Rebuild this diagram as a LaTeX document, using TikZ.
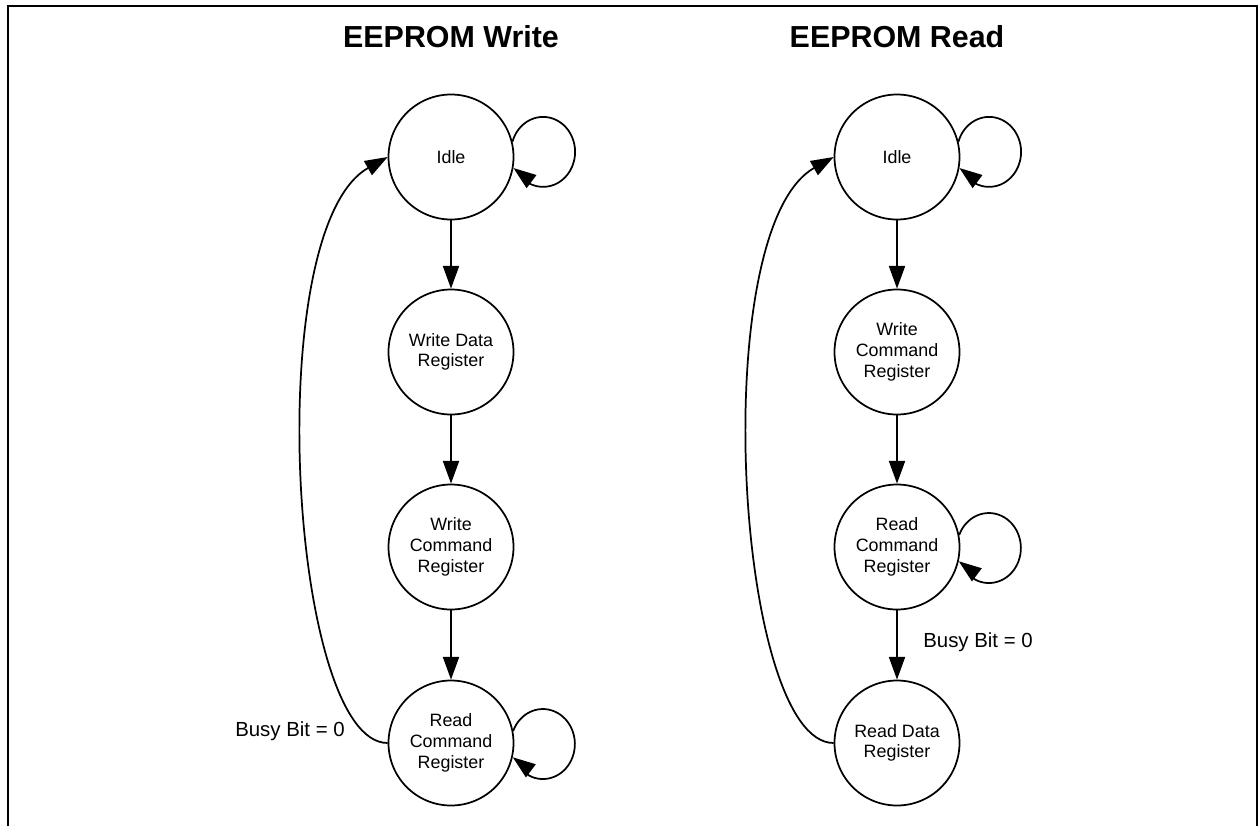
\documentclass[tikz,border=0pt]{standalone}
\usepackage{fontspec}
\setmainfont{Liberation Sans}
\usetikzlibrary{arrows.meta}
\begin{document}
\begin{tikzpicture}[x=0.75pt,y=-0.75pt,
  state/.style={circle,draw,line width=1.3pt,minimum size=93.75pt,inner sep=0pt,align=center,
    font=\fontsize{13.4}{15.5}\selectfont},
  arr/.style={line width=1.3pt,-{Triangle[length=17pt,width=12pt]}},
  title/.style={font=\fontsize{22.8}{26}\selectfont\bfseries},
  lbl/.style={font=\fontsize{15.3}{18}\selectfont}]
\useasboundingbox (0,0) rectangle (1259,825);
\draw[line width=1.1pt] (8,830) -- (8,6) -- (1257,6) -- (1257,830);
% titles
\node[title] (tw) at (451,37) {EEPROM Write};
\node[title] (tr) at (897,37) {EEPROM Read};
% write column
\node[state] (wi) at (451,157) {Idle};
\node[state] (wd) at (451,352) {Write Data\\Register};
\node[state] (wc) at (451,547) {Write\\Command\\Register};
\node[state] (wr) at (451,743) {Read\\Command\\Register};
% read column
\node[state] (ri) at (897,157) {Idle};
\node[state] (rc) at (897,352) {Write\\Command\\Register};
\node[state] (rr) at (897,547) {Read\\Command\\Register};
\node[state] (rd) at (897,743) {Read Data\\Register};
% straight arrows
\draw[arr] (wi) -- (wd);
\draw[arr] (wd) -- (wc);
\draw[arr] (wc) -- (wr);
\draw[arr] (ri) -- (rc);
\draw[arr] (rc) -- (rr);
\draw[arr] (rr) -- (rd);
% self loops
\draw[arr] (wi.14) arc[start angle=197, end angle=470, x radius=32, y radius=35]
  .. controls +(-10,-4) and +(12,9) .. (wi.-10);
\draw[arr] (wr.11) arc[start angle=202, end angle=470, x radius=32, y radius=35]
  .. controls +(-10,-4) and +(12,9) .. (wr.-13);
\draw[arr] (ri.14) arc[start angle=197, end angle=470, x radius=32, y radius=35]
  .. controls +(-10,-4) and +(12,9) .. (ri.-10);
\draw[arr] (rr.11) arc[start angle=202, end angle=470, x radius=32, y radius=35]
  .. controls +(-10,-4) and +(12,9) .. (rr.-13);
% return curves
\draw[arr] (wr.west) .. controls +(-98,0) and +(-128,72) .. (wi.west);
\draw[arr] (rd.west) .. controls +(-98,0) and +(-128,72) .. (ri.west);
% labels
\node[lbl] (lw) at (290,731) {Busy Bit = 0};
\node[lbl] (lr) at (978,642) {Busy Bit = 0};
\end{tikzpicture}
\end{document}
